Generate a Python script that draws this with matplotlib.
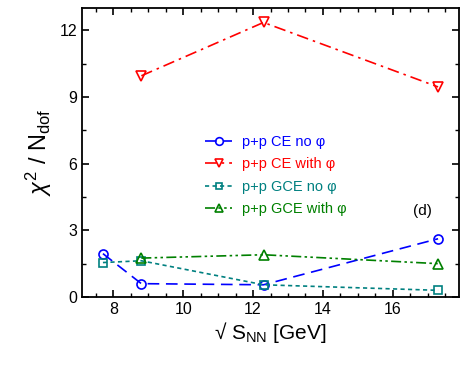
import matplotlib
matplotlib.use('Agg')
import matplotlib.pyplot as plt
from matplotlib.ticker import MultipleLocator

plt.rcParams.update({
    'font.family': 'Liberation Sans',
    'mathtext.fontset': 'custom',
    'mathtext.rm': 'Liberation Sans',
    'mathtext.it': 'Liberation Sans:italic',
    'mathtext.bf': 'Liberation Sans:bold',
    'xtick.direction': 'in',
    'ytick.direction': 'in',
    'xtick.top': True,
    'ytick.right': True,
})

# collision energies (GeV)
energy = [7.7, 8.8, 12.3, 17.3]
energy_phi = [8.8, 12.3, 17.3]

ce_no_phi = [1.95, 0.6, 0.55, 2.62]
ce_with_phi = [9.95, 12.35, 9.45]
gce_no_phi = [1.55, 1.63, 0.55, 0.3]
gce_with_phi = [1.75, 1.9, 1.5]

BLUE = '#0000FF'
RED = '#FF0000'
TEAL = '#008080'
GREEN = '#008000'

fig = plt.figure(figsize=(4.67, 3.72), dpi=100)
ax = fig.add_axes([82 / 467, 1 - 297 / 372, 377 / 467, 289 / 372])

ax.plot(energy, ce_no_phi, color=BLUE, ls=(0, (7, 4)), lw=1.2, marker='o',
        ms=6.5, mfc='none', mew=1.2, label='p+p CE no \u03c6')
ax.plot(energy_phi, ce_with_phi, color=RED, ls=(0, (7, 3, 1.5, 3)), lw=1.2, marker='v',
        ms=7.5, mfc='none', mew=1.2, label='p+p CE with \u03c6')
ax.plot(energy, gce_no_phi, color=TEAL, ls=(0, (2.5, 2)), lw=1.2, marker='s',
        ms=5.5, mfc='none', mew=1.2, label='p+p GCE no \u03c6')
ax.plot(energy_phi, gce_with_phi, color=GREEN, ls=(0, (6, 2, 1.5, 2, 1.5, 2)), lw=1.2,
        marker='^', ms=7.5, mfc='none', mew=1.2, label='p+p GCE with \u03c6')

ax.set_xlim(7.1, 17.9)
ax.set_ylim(0, 13)
ax.xaxis.set_major_locator(MultipleLocator(2))
ax.xaxis.set_minor_locator(MultipleLocator(0.5))
ax.yaxis.set_major_locator(MultipleLocator(3))
ax.yaxis.set_minor_locator(MultipleLocator(1.5))
ax.tick_params(which='major', length=5, width=1.2, labelsize=11.5)
ax.tick_params(which='minor', length=3, width=1.0)
for s in ax.spines.values():
    s.set_linewidth(1.3)

ax.set_xlabel('\u221a S$_{\\mathregular{NN}}$ [GeV]', fontsize=15, labelpad=2)
ax.set_ylabel(r'$\chi^{2}$ / N$_{\mathregular{dof}}$', fontsize=17, labelpad=4)

leg = ax.legend(loc='center left', bbox_to_anchor=(0.292, 0.42), frameon=False,
                fontsize=10.5, handlelength=1.85, labelspacing=0.58, handletextpad=0.7,
                markerscale=0.85)
for txt, line in zip(leg.get_texts(), leg.get_lines()):
    txt.set_color(line.get_color())

ax.text(0.878, 0.298, '(d)', transform=ax.transAxes, fontsize=11, va='center')

fig.savefig('out.png', dpi=100)
